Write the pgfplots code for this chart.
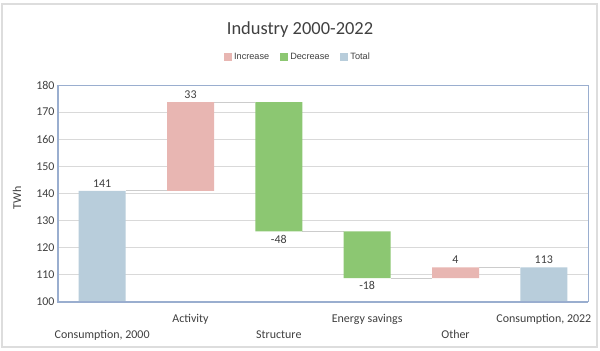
\documentclass[border=0pt]{standalone}
\usepackage{fontspec}
\setmainfont{Carlito}
\newfontfamily\legfont{Liberation Sans}
\usepackage{pgfplots}
\pgfplotsset{compat=1.18}
\definecolor{incC}{HTML}{E8B6B2}
\definecolor{decC}{HTML}{8CC772}
\definecolor{totC}{HTML}{B8CDDB}
\definecolor{axC}{HTML}{9AAECF}
\definecolor{gridC}{HTML}{D9D9D9}
\definecolor{txtC}{HTML}{404040}
\definecolor{conC}{HTML}{CCCCCC}
\definecolor{frameC}{HTML}{DDDDDD}
\begin{document}
\begin{tikzpicture}
\useasboundingbox (-58bp,-49bp) rectangle (542bp,302bp);
\fill[white] (-58bp,-49bp) rectangle (542bp,302bp);
\draw[frameC, line width=1.2bp] (-56bp,-45bp) rectangle (539bp,298bp);
\begin{axis}[
  at={(0,0)}, anchor=south west,
  scale only axis, width=530bp, height=217bp,
  ybar stacked, bar width=47bp,
  xmin=-0.5, xmax=5.5, ymin=100, ymax=180,
  ytick={100,110,...,180},
  xtick={0,...,5},
  xticklabels={{\strut\\Consumption, 2000},{Activity},{\strut\\Structure},{Energy savings},{\strut\\Other},{Consumption, 2022}},
  xticklabel style={align=center, font=\fontsize{12}{14}\selectfont, text=txtC, yshift=-9bp},
  yticklabel style={font=\fontsize{12}{14}\selectfont, text=txtC},
  /pgf/number format/assume math mode=true,
  major tick length=0pt,
  ymajorgrids, grid style={gridC, line width=0.8bp},
  axis line style={axC, line width=1bp},
  ylabel={TWh},
  ylabel style={at={(axis description cs:-0.0774,0.48)}, anchor=center, font=\fontsize{12}{14}\selectfont, text=txtC},
  title={Industry 2000-2022},
  title style={at={(axis description cs:0.4566,1.230)}, anchor=center, font=\fontsize{18.5}{20}\selectfont, text=txtC},
  legend columns=-1,
  legend style={draw=none, fill=none, at={(axis description cs:0.4528,1.129)}, anchor=center,
    font=\legfont\fontsize{9.2}{10}\selectfont, text=txtC,
    /tikz/every even column/.append style={column sep=9bp},
    inner sep=0pt, nodes={inner sep=2bp}},
  legend image code/.code={\fill[#1] (0bp,-4bp) rectangle (8bp,4bp);},
]
\addplot[draw=none, fill=none, forget plot] coordinates {(0,0) (1,141) (2,126) (3,108.8) (4,108.8) (5,0)};
\addplot[draw=none, fill=incC] coordinates {(0,0) (1,32.7) (2,0) (3,0) (4,4) (5,0)};
\addlegendentry{Increase}
\addplot[draw=none, fill=decC] coordinates {(0,0) (1,0) (2,47.7) (3,17.2) (4,0) (5,0)};
\addlegendentry{Decrease}
\addplot[draw=none, fill=totC] coordinates {(0,141) (1,0) (2,0) (3,0) (4,0) (5,112.8)};
\addlegendentry{Total}
% connectors
\addplot[sharp plot, stack plots=false, conC, line width=0.8bp, forget plot] coordinates {(0.266,141) (0.734,141)};
\addplot[sharp plot, stack plots=false, conC, line width=0.8bp, forget plot] coordinates {(1.266,173.7) (1.734,173.7)};
\addplot[sharp plot, stack plots=false, conC, line width=0.8bp, forget plot] coordinates {(2.266,126) (2.734,126)};
\addplot[sharp plot, stack plots=false, conC, line width=0.8bp, forget plot] coordinates {(3.266,108.8) (3.734,108.8)};
\addplot[sharp plot, stack plots=false, conC, line width=0.8bp, forget plot] coordinates {(4.266,112.8) (4.734,112.8)};
\end{axis}
\begin{axis}[
  at={(0,0)}, anchor=south west,
  scale only axis, width=530bp, height=217bp,
  xmin=-0.5, xmax=5.5, ymin=100, ymax=180,
  hide axis, clip=false,
]
\addplot[only marks, mark=none, nodes near coords,
  point meta=explicit symbolic, nodes near coords style={anchor=south, font=\fontsize{12}{14}\selectfont, text=txtC}]
  table[meta=lab] {
x y lab
0 141 141
1 173.7 33
4 112.8 4
5 112.8 113
};
\addplot[only marks, mark=none, nodes near coords,
  point meta=explicit symbolic, nodes near coords style={anchor=north, font=\fontsize{12}{14}\selectfont, text=txtC}]
  table[meta=lab] {
x y lab
2 126 -48
3 108.8 -18
};
\end{axis}
\draw[axC, line width=2bp] (0,217bp) -- (0,0) -- (530bp,0);
\end{tikzpicture}
\end{document}
